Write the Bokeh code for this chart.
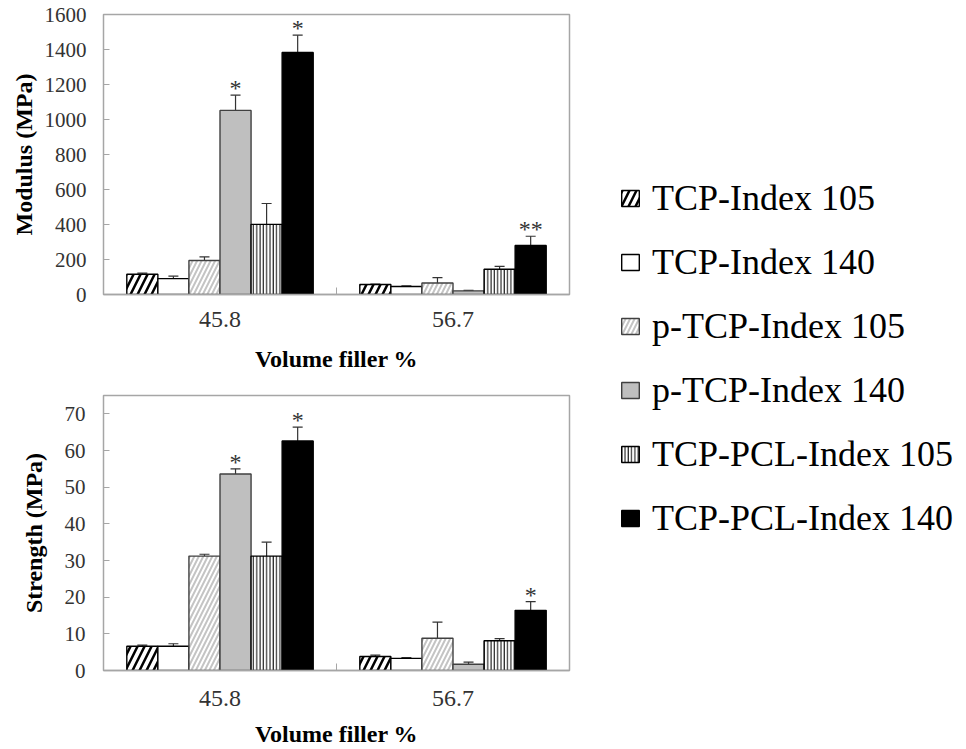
import numpy as np
from bokeh.plotting import figure
from bokeh.models import (ColumnDataSource, Range1d, FixedTicker, Whisker, TeeHead,
                          Legend, LegendItem)
from bokeh.layouts import row, column
from bokeh.embed import file_html
from bokeh.resources import INLINE
from bokeh.core.properties import value

# ---------------- data ----------------
categories = ["45.8", "56.7"]
series = ["TCP-Index 105", "TCP-Index 140", "p-TCP-Index 105",
          "p-TCP-Index 140", "TCP-PCL-Index 105", "TCP-PCL-Index 140"]

modulus_458 = [116, 91, 194, 1052, 401, 1383]
modulus_458_err = [6, 14, 21, 87, 119, 99]
modulus_567 = [57, 46, 66, 21, 144, 280]
modulus_567_err = [3, 3, 31, 3, 17, 53]
modulus_sig_458 = ["", "", "", "*", "", "*"]
modulus_sig_567 = ["", "", "", "", "", "**"]

strength_458 = [6.6, 6.6, 31.2, 53.6, 31.2, 62.6]
strength_458_err = [0.3, 0.7, 0.5, 1.4, 3.8, 3.8]
strength_567 = [3.8, 3.3, 8.8, 1.7, 8.1, 16.4]
strength_567_err = [0.4, 0.2, 4.4, 0.6, 0.6, 2.4]
strength_sig_458 = ["", "", "", "*", "", "*"]
strength_sig_567 = ["", "", "", "", "", "*"]

modulus_ticks = [0, 200, 400, 600, 800, 1000, 1200, 1400, 1600]
strength_ticks = [0, 10, 20, 30, 40, 50, 60, 70]

# ---------------- styles ----------------
FONT = value("Liberation Serif")
styles = [
    dict(fill_color="white", line_color="black", hatch_pattern="right_diagonal_line",
         hatch_color="black", hatch_weight=2.5, hatch_scale=14),
    dict(fill_color="white", line_color="black"),
    dict(fill_color="white", line_color="#404040", hatch_pattern="right_diagonal_line",
         hatch_color="#c4c4c4", hatch_weight=2.0, hatch_scale=9),
    dict(fill_color="#bfbfbf", line_color="#404040"),
    dict(fill_color="white", line_color="black", hatch_pattern="vertical_line",
         hatch_color="black", hatch_weight=1.0, hatch_scale=3.3),
    dict(fill_color="black", line_color="black"),
]

GROUP = 0.8
BW = GROUP / len(series)


def make_chart(vals, errs, sigs, ymax, yticks, ylabel, width, height,
               borders, x_std, xl_std, y_std, yl_std):
    left, right, top, bottom = borders
    p = figure(width=width, height=height, x_range=Range1d(0, len(categories)),
               y_range=Range1d(0, ymax), toolbar_location=None, output_backend="svg",
               min_border_left=left, min_border_right=right,
               min_border_top=top, min_border_bottom=bottom)
    p.xgrid.visible = False
    p.ygrid.visible = False
    p.outline_line_color = "#a6a6a6"
    p.outline_line_width = 1.5

    for j, s in enumerate(series):
        xs = [i + 0.5 + (j - (len(series) - 1) / 2) * BW for i in range(len(categories))]
        tops = [vals[i][j] for i in range(len(categories))]
        er = [errs[i][j] for i in range(len(categories))]
        src = ColumnDataSource(dict(
            x=xs, top=tops,
            upper=[t + e for t, e in zip(tops, er)],
            lower=[t - e for t, e in zip(tops, er)],
            sig=[sigs[i][j] for i in range(len(categories))]))
        p.vbar(x="x", top="top", width=BW, source=src, line_width=1.4, **styles[j])
        p.add_layout(Whisker(base="x", upper="upper", lower="lower", source=src,
                             line_color="#333333", line_width=1.2,
                             upper_head=TeeHead(size=10, line_color="#333333", line_width=1.2),
                             lower_head=TeeHead(size=10, line_color="#333333", line_width=1.2)))
        p.text(x="x", y="upper", text="sig", source=src, text_align="center",
               text_baseline="bottom", text_font=FONT, text_font_size="24px",
               text_color="#333333", y_offset=6)

    centers = [i + 0.5 for i in range(len(categories))]
    p.xaxis.ticker = FixedTicker(ticks=centers,
                                 minor_ticks=[float(i) for i in range(1, len(categories))])
    p.xaxis.major_label_overrides = {c: lab for c, lab in zip(centers, categories)}
    p.xaxis.major_tick_in = 0
    p.xaxis.major_tick_out = 0
    p.xaxis.minor_tick_in = 7
    p.xaxis.minor_tick_out = 0
    p.xaxis.minor_tick_line_color = "#a6a6a6"
    p.xaxis.axis_line_color = "#a6a6a6"
    p.xaxis.axis_line_width = 1.5
    p.xaxis.major_label_text_font = "Liberation Serif"
    p.xaxis.major_label_text_font_size = "24px"
    p.xaxis.major_label_text_color = "#333333"
    p.xaxis.major_label_standoff = x_std
    p.xaxis.axis_label = "Volume filler %"
    p.xaxis.axis_label_text_font = "Liberation Serif"
    p.xaxis.axis_label_text_font_style = "bold"
    p.xaxis.axis_label_text_font_size = "24px"
    p.xaxis.axis_label_text_color = "black"
    p.xaxis.axis_label_standoff = xl_std

    p.yaxis.ticker = FixedTicker(ticks=yticks)
    p.yaxis.axis_line_color = None
    p.yaxis.major_tick_in = 6
    p.yaxis.major_tick_out = 0
    p.yaxis.major_tick_line_color = "#a6a6a6"
    p.yaxis.minor_tick_line_color = None
    p.yaxis.major_label_text_font = "Liberation Serif"
    p.yaxis.major_label_text_font_size = "21px"
    p.yaxis.major_label_text_color = "#333333"
    p.yaxis.major_label_standoff = y_std
    p.yaxis.axis_label = ylabel
    p.yaxis.axis_label_text_font = "Liberation Serif"
    p.yaxis.axis_label_text_font_style = "bold"
    p.yaxis.axis_label_text_font_size = "24px"
    p.yaxis.axis_label_text_color = "black"
    p.yaxis.axis_label_standoff = yl_std
    return p


p_top = make_chart([modulus_458, modulus_567], [modulus_458_err, modulus_567_err],
                   [modulus_sig_458, modulus_sig_567], 1600, modulus_ticks,
                   "Modulus (MPa)", 580, 380, (103, 5, 14, 86), 17, 16, 17, 5)
p_bot = make_chart([strength_458, strength_567], [strength_458_err, strength_567_err],
                   [strength_sig_458, strength_sig_567], 75, strength_ticks,
                   "Strength (MPa)", 580, 369, (99, 11, 15, 76), 20, 12, 18, 15)

# ---------------- legend panel ----------------
# swatch renderers hold a single non-finite value, so they draw nothing on the panel
leg = figure(width=386, height=749, x_range=Range1d(0, 1), y_range=Range1d(0, 1),
             toolbar_location=None, output_backend="svg", min_border=0,
             x_axis_location=None, y_axis_location=None)
leg.outline_line_color = None
leg.xgrid.visible = False
leg.ygrid.visible = False
items = []
for s, st in zip(series, styles):
    r = leg.vbar(x=np.array([np.nan]), top=np.array([np.nan]), bottom=np.array([np.nan]),
                 width=0.1, line_width=1.4, **st)
    items.append(LegendItem(label=s, renderers=[r]))
legend = Legend(items=items, location=(39, 210), orientation="vertical",
                glyph_width=22, glyph_height=20, label_standoff=11,
                label_height=40, spacing=22, padding=0, margin=0,
                border_line_color=None, background_fill_alpha=0,
                label_text_font="Liberation Serif", label_text_font_size="36px",
                label_text_color="black")
leg.add_layout(legend)

layout = row(column(p_top, p_bot), leg)
open("out.html", "w").write(file_html(layout, INLINE))
